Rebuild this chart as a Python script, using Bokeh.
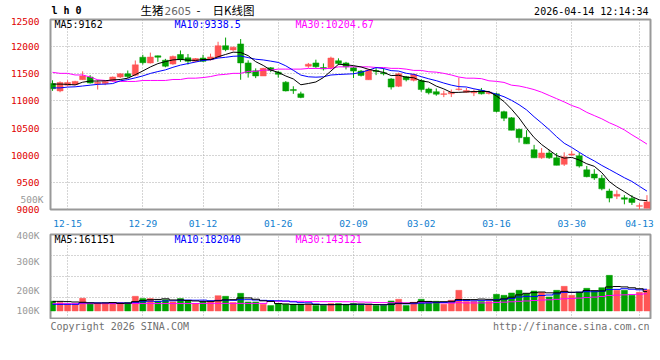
from bokeh.plotting import figure
from bokeh.models import FixedTicker, Label, Range1d, ColumnDataSource, LinearAxis
from bokeh.layouts import column
from bokeh.embed import file_html
from bokeh.resources import INLINE

# ---------------- data ----------------
dates = ["12-11", "12-12", "12-15", "12-16", "12-17", "12-18", "12-19", "12-22", "12-23", "12-24",
         "12-25", "12-26", "12-29", "12-30", "12-31", "01-05", "01-06", "01-07", "01-08", "01-09",
         "01-12", "01-13", "01-14", "01-15", "01-16", "01-19", "01-20", "01-21", "01-22", "01-23",
         "01-26", "01-27", "01-28", "01-29", "01-30", "02-02", "02-03", "02-04", "02-05", "02-06",
         "02-09", "02-10", "02-11", "02-12", "02-13", "02-24", "02-25", "02-26", "02-27", "03-02",
         "03-03", "03-04", "03-05", "03-06", "03-09", "03-10", "03-11", "03-12", "03-13", "03-16",
         "03-17", "03-18", "03-19", "03-20", "03-23", "03-24", "03-25", "03-26", "03-27", "03-30",
         "03-31", "04-01", "04-02", "04-03", "04-07", "04-08", "04-09", "04-10", "04-13", "04-14"]

opens = [11320, 11185, 11290, 11300, 11390, 11440, 11320, 11320, 11370, 11440,
         11500, 11475, 11805, 11700, 11830, 11750, 11680, 11855, 11795, 11730,
         11790, 11760, 11808, 12017, 11940, 12050, 11700, 11555, 11460, 11610,
         11530, 11345, 11210, 11130, 11640, 11700, 11615, 11610, 11740, 11700,
         11610, 11550, 11390, 11560, 11520, 11405, 11270, 11445, 11380, 11375,
         11220, 11170, 11120, 11131, 11209, 11161, 11149, 11191, 11137, 11130,
         10802, 10688, 10478, 10329, 10101, 9952, 10041, 9952, 9832, 10005,
         9988, 9730, 9652, 9575, 9341, 9246, 9216, 9204, 9060, 9024]
highs = [11380, 11360, 11380, 11370, 11545, 11475, 11390, 11375, 11450, 11510,
         11560, 11745, 11850, 11890, 11835, 11775, 11835, 11930, 11865, 11790,
         11850, 11870, 12090, 12167, 12000, 12140, 11748, 11600, 11610, 11625,
         11550, 11365, 11270, 11170, 11700, 11760, 11690, 11815, 11785, 11720,
         11630, 11570, 11590, 11610, 11600, 11420, 11520, 11460, 11500, 11405,
         11245, 11230, 11190, 11209, 11430, 11239, 11209, 11239, 11173, 11149,
         10820, 10700, 10490, 10460, 10191, 10131, 10101, 10041, 10053, 10083,
         10047, 9802, 9742, 9635, 9383, 9353, 9264, 9264, 9114, 9264]
lows = [11185, 11160, 11270, 11290, 11390, 11320, 11210, 11290, 11350, 11420,
        11425, 11455, 11670, 11690, 11720, 11620, 11665, 11720, 11670, 11715,
        11715, 11745, 11795, 11915, 11915, 11390, 11430, 11420, 11460, 11530,
        11430, 11175, 11130, 11050, 11610, 11610, 11560, 11580, 11660, 11580,
        11420, 11450, 11390, 11475, 11470, 11210, 11255, 11360, 11360, 11170,
        11120, 11095, 11070, 11071, 11191, 11149, 11089, 11119, 11119, 10790,
        10628, 10460, 10233, 10209, 9952, 9934, 9934, 9814, 9802, 9988,
        9772, 9593, 9545, 9353, 9132, 9192, 9096, 9084, 8980, 9024]
closes = [11225, 11340, 11340, 11360, 11460, 11330, 11345, 11360, 11440, 11500,
          11450, 11665, 11705, 11808, 11805, 11640, 11820, 11760, 11730, 11780,
          11730, 11810, 12017, 11945, 11990, 11700, 11520, 11460, 11600, 11560,
          11490, 11185, 11190, 11065, 11676, 11630, 11590, 11790, 11690, 11630,
          11550, 11470, 11570, 11540, 11500, 11255, 11500, 11390, 11490, 11210,
          11150, 11125, 11132, 11161, 11221, 11191, 11167, 11131, 11161, 10805,
          10682, 10460, 10323, 10209, 9952, 10041, 9952, 9814, 9970, 10023,
          9800, 9605, 9580, 9380, 9210, 9280, 9190, 9130, 9070, 9140]
volumes = [81000, 69700, 53000, 53000, 106000, 58500, 58500, 58500, 69700, 69700,
           69700, 122700, 103200, 103200, 83600, 94800, 75300, 103200, 83600, 61300,
           75300, 75300, 128200, 122700, 69700, 147800, 75300, 75300, 55800, 44600,
           58500, 55800, 55800, 55800, 55800, 44600, 44600, 61300, 61300, 53000,
           61300, 53000, 53000, 44600, 44600, 83600, 97600, 44600, 72500, 97600,
           80900, 80900, 55800, 89200, 172900, 78100, 78100, 78100, 78100, 139400,
           131000, 150600, 172900, 145000, 167300, 156100, 117100, 172900, 206300, 131000,
           156100, 189600, 167300, 195200, 298300, 172900, 172900, 131000, 156100, 178400]

ma5_head = [11310, 11310, 11305, 11295]
ma10_head = [11240, 11240, 11255, 11260, 11275, 11290, 11305, 11310, 11320]
ma30 = [11527, 11508, 11508, 11478, 11478, 11440, 11389, 11377, 11365, 11359,
        11359, 11359, 11377, 11377, 11377, 11377, 11395, 11395, 11419, 11419,
        11430, 11449, 11479, 11490, 11508, 11508, 11545, 11545, 11568, 11568,
        11586, 11586, 11586, 11586, 11598, 11598, 11598, 11598, 11628, 11628,
        11628, 11628, 11628, 11616, 11616, 11600, 11600, 11586, 11562, 11562,
        11538, 11530, 11508, 11478, 11440, 11419, 11419, 11410, 11371, 11360,
        11341, 11290, 11275, 11245, 11209, 11161, 11101, 11041, 10982, 10916,
        10868, 10790, 10730, 10670, 10598, 10538, 10466, 10376, 10293, 10205]
vol_ma5_head = [80000, 80000, 78000, 75000]
vol_ma10_head = [55000, 55000, 55000, 55000, 68000, 68000, 68000, 68000, 68000]
vol_ma30_head = [61000, 61000, 61000, 61000, 61000, 61000, 61000, 61000, 61000, 61000,
                 62000, 62000, 62000, 62000, 62000, 62000, 62000, 62000, 62000, 62000,
                 63000, 63000, 63000, 63000, 63000, 63000, 63000, 63000, 63000]

tick_dates = ["12-15", "12-29", "01-12", "01-26", "02-09", "03-02", "03-16", "03-30", "04-13"]
price_ticks = [9000, 9500, 10000, 10500, 11000, 11500, 12000, 12500]
vol_tick_labels = ["100K", "200K", "300K", "400K"]
vol_tick_pos = [6000, 173000, 415500, 638000]
stray_label = "500K"          # volume label that Sina prints beside the price scale
stray_label_pos = 9180

ma_price_text = ["MA5:9162", "MA10:9338.5", "MA30:10204.67"]
ma_vol_text = ["MA5:161151", "MA10:182040", "MA30:143121"]
title_parts = ["生猪", "2605", "-", "日K线图"]
logo_text = "l h 0"
stamp_text = "2026-04-14 12:14:34"
copyright_text = "Copyright 2026 SINA.COM"
url_text = "http://finance.sina.com.cn"


def rolling(vals, n, head):
    out = list(head)
    for i in range(len(head), len(vals)):
        out.append(sum(vals[i - n + 1:i + 1]) / n)
    return out


ma5 = rolling(closes, 5, ma5_head)
ma10 = rolling(closes, 10, ma10_head)
vma5 = rolling(volumes, 5, vol_ma5_head)
vma10 = rolling(volumes, 10, vol_ma10_head)
vma30 = rolling(volumes, 30, vol_ma30_head)

# ---------------- style ----------------
RED = "#ff5555"
GREEN = "#00a000"
MONO = "DejaVu Sans Mono"
CJK = "Noto Sans CJK SC"
GRID = "#aaaaaa"
BORDER = "#999999"

n = len(dates)
idx = list(range(n))
colors = [RED if c >= o else GREEN for o, c in zip(opens, closes)]
src = ColumnDataSource(dict(
    x=idx, o=opens, h=highs, l=lows, c=closes,
    top=[max(o, c) for o, c in zip(opens, closes)],
    bot=[min(o, c) for o, c in zip(opens, closes)],
    v=volumes, color=colors, ma5=ma5, ma10=ma10, ma30=ma30,
    vma5=vma5, vma10=vma10, vma30=vma30))

tick_idx = [dates.index(d) for d in tick_dates]

W = 656
X0, X1 = -0.27, 79.47
xr = Range1d(X0, X1)

# header strip (page y 0..17); its frame is aligned with the panels below (x 50..650)
hdr = figure(width=W, height=17, x_range=Range1d(50, 650), y_range=Range1d(17, 0),
             output_backend="svg", toolbar_location=None,
             x_axis_location=None, y_axis_location=None,
             min_border_left=50, min_border_right=6, min_border_top=0, min_border_bottom=0)
hdr.outline_line_color = None
hdr.xgrid.visible = False
hdr.ygrid.visible = False

P0, P1 = 9000, 12500
p1 = figure(width=W, height=212, x_range=xr, y_range=Range1d(P0, P1),
            output_backend="svg", toolbar_location=None,
            min_border_left=50, min_border_right=6, min_border_top=2, min_border_bottom=16)

V0, V1 = -63500, 641000
p2 = figure(width=W, height=90, x_range=xr, y_range=Range1d(V0, V1),
            output_backend="svg", toolbar_location=None,
            min_border_left=50, min_border_right=6, min_border_top=5, min_border_bottom=1)

# footer strip (page y 319..334)
ftr = figure(width=W, height=15, x_range=Range1d(50, 650), y_range=Range1d(334, 319),
             output_backend="svg", toolbar_location=None,
             x_axis_location=None, y_axis_location=None,
             min_border_left=50, min_border_right=6, min_border_top=0, min_border_bottom=0)
ftr.outline_line_color = None
ftr.xgrid.visible = False
ftr.ygrid.visible = False


def fx(px):
    return X0 + (px - 50) * (X1 - X0) / 600


def fy(py):
    return P0 + (213 - py) * (P1 - P0) / 194


def fv(py):
    return V0 + (318 - py) * (V1 - V0) / 84


for p in (p1, p2):
    p.outline_line_color = BORDER
    p.outline_line_width = 2
    p.background_fill_color = "white"
    p.border_fill_color = "white"
    p.xgrid.ticker = FixedTicker(ticks=tick_idx)
    for g in (p.xgrid, p.ygrid):
        g.grid_line_color = GRID
        g.grid_line_dash = "1 2"
        g.grid_line_width = 1
    for ax in (p.xaxis, p.yaxis):
        ax.axis_line_color = None
        ax.major_tick_line_color = None
        ax.minor_tick_line_color = None
        ax.major_label_text_font = MONO
        ax.major_label_text_font_size = "9.5px"

# price axes
p1.yaxis.ticker = FixedTicker(ticks=price_ticks)
p1.ygrid.ticker = FixedTicker(ticks=price_ticks)
p1.yaxis.major_label_text_color = "#e00000"
p1.yaxis.major_label_standoff = 5
p1.xaxis.ticker = FixedTicker(ticks=tick_idx)
p1.xaxis.major_label_overrides = {i: d for i, d in zip(tick_idx, tick_dates)}
p1.xaxis.major_label_text_color = "#1080d0"
p1.xaxis.major_label_standoff = 4

# stray gray volume label beside the price scale
ax2 = LinearAxis(ticker=FixedTicker(ticks=[stray_label_pos]),
                 major_label_overrides={stray_label_pos: stray_label},
                 axis_line_color=None, major_tick_line_color=None, minor_tick_line_color=None,
                 major_label_text_font=MONO, major_label_text_font_size="9.5px",
                 major_label_text_color="#999999", major_label_standoff=-42)
p1.add_layout(ax2, "left")

# volume axes
p2.xaxis.visible = False
p2.yaxis.ticker = FixedTicker(ticks=vol_tick_pos)
p2.yaxis.major_label_overrides = {v: t for v, t in zip(vol_tick_pos, vol_tick_labels)}
p2.yaxis.major_label_text_color = "#999999"
p2.yaxis.major_label_standoff = 5
p2.ygrid.ticker = FixedTicker(ticks=[V0 + (V1 - V0) * f for f in (0.25, 0.5, 0.75)])

# candles
p1.segment(x0="x", y0="l", x1="x", y1="h", color="color", line_width=1, source=src)
p1.vbar(x="x", width=0.8, top="top", bottom="bot", fill_color="color",
        line_color="color", line_width=0.5, source=src)
p1.line("x", "ma30", color="#ff00ff", line_width=1, source=src)
p1.line("x", "ma10", color="#0000ff", line_width=1, source=src)
p1.line("x", "ma5", color="#000000", line_width=1, source=src)

# volume
p2.vbar(x="x", width=0.8, top="v", bottom=0, fill_color="color", line_color="color",
        line_width=0.5, source=src)
p2.step("x", "vma30", mode="center", color="#ff00ff", line_width=1, source=src)
p2.step("x", "vma10", mode="center", color="#0000ff", line_width=1, source=src)
p2.step("x", "vma5", mode="center", color="#000000", line_width=1, source=src)


def lab(p, x, y, text, color="#000000", size="10px", align="left", font=MONO, style="normal"):
    p.add_layout(Label(x=x, y=y, text=text, text_color=color, text_font_size=size,
                       text_align=align, text_baseline="middle", text_font=font,
                       text_font_style=style))


# header texts (page pixel coordinates)
lab(hdr, 51, 10, logo_text, size="10px", style="bold")
lab(hdr, 140, 9.5, title_parts[0], size="11.5px", font=CJK)
lab(hdr, 164, 10, title_parts[1], color="#666666", size="10.5px", font="DejaVu Sans")
lab(hdr, 196, 9.5, title_parts[2], size="11.5px", font=CJK)
lab(hdr, 212, 9.5, title_parts[3], size="11.5px", font=CJK)
lab(hdr, 648, 10.5, stamp_text, align="right")

ma_cols = ["#000000", "#0000ff", "#ff00ff"]
ma_x = [54, 174, 295]
for t, c, x in zip(ma_price_text, ma_cols, ma_x):
    lab(p1, fx(x), fy(24), t, color=c)
for t, c, x in zip(ma_vol_text, ma_cols, ma_x):
    lab(p2, fx(x), fv(238.5), t, color=c)

lab(ftr, 50, 325.5, copyright_text, color="#707070")
lab(ftr, 649, 326, url_text, color="#707070", align="right")

layout = column(hdr, p1, p2, ftr)
open("out.html", "w").write(file_html(layout, INLINE))
